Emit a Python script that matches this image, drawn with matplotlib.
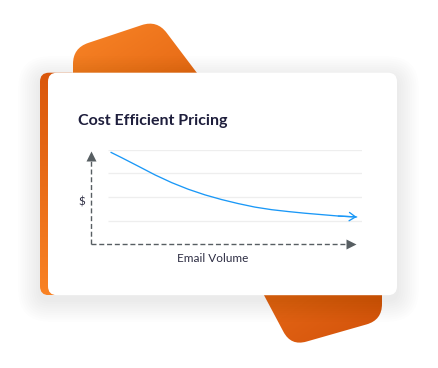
import numpy as np
import matplotlib
matplotlib.use("Agg")
from matplotlib import pyplot as plt
from matplotlib.path import Path
from matplotlib.patches import PathPatch, FancyBboxPatch
from matplotlib.colors import LinearSegmentedColormap

# chart text
title = "Cost Efficient Pricing"
x_label = "Email Volume"
y_label = "$"

# price curve (volume, price)
volume = [0.75, 1.16, 1.78, 2.41, 3.04, 3.66, 4.29, 4.92, 5.54, 6.17,
          6.80, 7.43, 8.05, 8.68, 9.31, 10.0]
price = [3.90, 3.67, 3.31, 2.94, 2.61, 2.33, 2.09, 1.89, 1.72, 1.57,
         1.46, 1.38, 1.31, 1.25, 1.19, 1.15]
grid_levels = [1, 2, 3, 4]
x_max = 10.0
y_max = 3.9

W, H = 438, 368
fig = plt.figure(figsize=(W / 100, H / 100), dpi=100)
fig.patch.set_facecolor("white")

# background canvas in pixel units
bg = fig.add_axes([0, 0, 1, 1])
bg.set_xlim(0, W)
bg.set_ylim(H, 0)
bg.axis("off")


def rounded_path(pts, r):
    pts = [np.array(p, float) for p in pts]
    verts, codes = [], []
    n = len(pts)
    for i in range(n):
        p0, p1, p2 = pts[i - 1], pts[i], pts[(i + 1) % n]
        v1 = (p0 - p1) / np.linalg.norm(p0 - p1)
        v2 = (p2 - p1) / np.linalg.norm(p2 - p1)
        a, b = p1 + v1 * r, p1 + v2 * r
        verts.append(a)
        codes.append(Path.MOVETO if i == 0 else Path.LINETO)
        verts += [p1, b]
        codes += [Path.CURVE3, Path.CURVE3]
    verts.append(verts[0])
    codes.append(Path.CLOSEPOLY)
    return Path(verts, codes)


def gradient_fill(ax, patch, c0, c1, direction="diag", z=1):
    ax.add_patch(patch)
    patch.set_facecolor("none")
    patch.set_edgecolor("none")
    ext = patch.get_path().get_extents()
    x0, y0, x1, y1 = ext.x0, ext.y0, ext.x1, ext.y1
    gx, gy = np.meshgrid(np.linspace(0, 1, 64), np.linspace(0, 1, 64))
    g = (gx + gy) / 2 if direction == "diag" else gy
    cmap = LinearSegmentedColormap.from_list("g", [c0, c1])
    im = ax.imshow(g, cmap=cmap, extent=(x0, x1, y1, y0), origin="upper",
                   aspect="auto", zorder=z, interpolation="bilinear")
    im.set_clip_path(patch)


# orange shapes behind the card
top_shape = PathPatch(rounded_path([(73, 48), (157, 20), (240, 130), (73, 130)], 16), zorder=1)
gradient_fill(bg, top_shape, "#F88426", "#DC5A0C", z=1)
bot_shape = PathPatch(rounded_path([(240, 250), (382, 250), (382, 320), (291, 346)], 16), zorder=1)
gradient_fill(bg, bot_shape, "#EE701C", "#D2520A", z=1)

# card shadow
for i in range(10):
    pad = 2 + i * 2.2
    bg.add_patch(FancyBboxPatch((40 - pad, 78 - pad), 357 + 2 * pad, 222 + 2 * pad,
                                boxstyle=f"round,pad=0,rounding_size={10 + pad}",
                                fc="#000000", ec="none", alpha=0.007, zorder=2))

# card with orange left edge
card_edge = FancyBboxPatch((40, 72.7), 40, 222.5, boxstyle="round,pad=0,rounding_size=9")
card_edge.set_zorder(3)
gradient_fill(bg, card_edge, "#DA570B", "#F98224", direction="vert", z=3)
bg.add_patch(FancyBboxPatch((48, 72.7), 349, 222.5, boxstyle="round,pad=0,rounding_size=9",
                            fc="white", ec="none", zorder=4))

bg.text(78, 125, title, fontsize=11.5, fontweight="bold", family="Lato",
        color="#1E1E3C", ha="left", va="baseline", zorder=5)

# chart area
x_lo, x_hi = 91, 362
y_lo, y_hi = 244, 150
ax = fig.add_axes([x_lo / W, (H - y_lo) / H, (x_hi - x_lo) / W, (y_lo - y_hi) / H])
ax.set_xlim(0, 10.2)
ax.set_ylim(0, 4)
ax.patch.set_alpha(0)
ax.set_zorder(6)
for s in ax.spines.values():
    s.set_visible(False)
ax.set_xticks([])
ax.set_yticks([])

ax.hlines(grid_levels, 0.65, 10.2, color="#EEEEEE", lw=0.9, zorder=1)

axis_col = "#575E62"
dash = (0, (3.6, 2.0))
ax.plot([0, 0], [0, y_max - 0.3], color=axis_col, lw=1.0, ls=dash, clip_on=False, zorder=2)
ax.plot([0, x_max - 0.3], [0, 0], color=axis_col, lw=1.0, ls=dash, clip_on=False, zorder=2)
ax.plot([0], [y_max - 0.17], marker="^", ms=6.5, color=axis_col, mec="none", clip_on=False, zorder=3)
ax.plot([x_max - 0.2], [0], marker=">", ms=6.5, color=axis_col, mec="none", clip_on=False, zorder=3)

curve_col = "#1A98F7"
ax.plot(volume, price, color=curve_col, lw=0.95, clip_on=False, zorder=4,
        solid_capstyle="round", solid_joinstyle="round")
ax.annotate("", xy=(volume[-1], price[-1]), xytext=(volume[-2], price[-2]),
            arrowprops=dict(arrowstyle="->,head_length=0.45,head_width=0.3",
                            color=curve_col, lw=0.95, shrinkA=0, shrinkB=0),
            annotation_clip=False, zorder=4)

bg.text(82, 202, y_label, fontsize=8.4, family="Lato", color="#2E2E44",
        ha="center", va="center", zorder=5)
bg.text(213, 258, x_label, fontsize=8.5, family="Lato", color="#2E2E44",
        ha="center", va="center", zorder=5)

fig.savefig("out.png", dpi=100, facecolor="white")
